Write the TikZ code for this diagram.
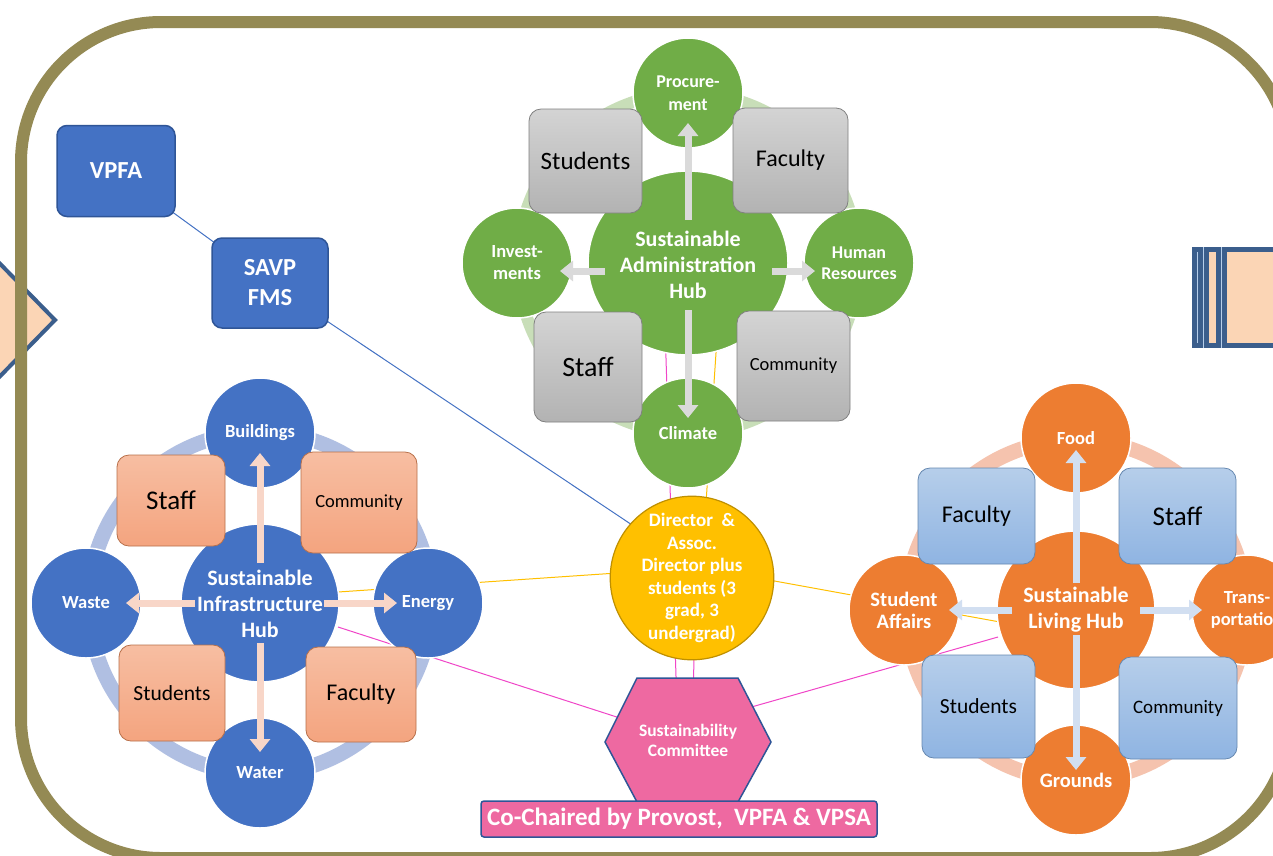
\documentclass[tikz,border=0pt]{standalone}
\usepackage{fontspec}
\setmainfont{Carlito}
\usetikzlibrary{arrows.meta,shapes.geometric,calc}
\definecolor{frameol}{HTML}{948A54}
\definecolor{gA}{HTML}{70AD47}
\definecolor{bI}{HTML}{4472C4}
\definecolor{oL}{HTML}{ED7D31}
\definecolor{gold}{HTML}{FFC000}
\definecolor{golddk}{HTML}{BF9000}
\definecolor{pinkH}{HTML}{EE69A1}
\definecolor{navy}{HTML}{2F5597}
\definecolor{steel}{HTML}{3B5E8C}
\definecolor{peachL}{HTML}{FBD5B5}
\definecolor{ringA}{HTML}{C8DEB8}
\definecolor{ringI}{HTML}{B0BFE2}
\definecolor{ringL}{HTML}{F5C3AE}
\definecolor{arrAc}{HTML}{DADADA}
\definecolor{arrIc}{HTML}{F8D6C8}
\definecolor{arrLc}{HTML}{D2DFF1}
\definecolor{lnpink}{HTML}{F046C8}
\definecolor{lngold}{HTML}{FFC000}
\definecolor{lnblue}{HTML}{4472C4}
\definecolor{pTop}{HTML}{F7BEA2}
\definecolor{pBot}{HTML}{F4A47F}
\definecolor{pEdge}{HTML}{B8704A}
\definecolor{bEdge}{HTML}{6688B0}
\definecolor{bTop}{HTML}{B6CEEA}
\definecolor{bBot}{HTML}{8FB4E2}
\tikzset{
  sat/.style={circle, minimum size=110pt, inner sep=0pt, draw=white, line width=1.5pt, text=white,
    font=\bfseries\fontsize{18.5}{22}\selectfont, align=center},
  hubnode/.style={circle, minimum size=158pt, inner sep=0pt, draw=white, line width=1.5pt, text=white,
    font=\bfseries\fontsize{22}{26}\selectfont, align=center},
  hubtext/.style={text=white, font=\bfseries\fontsize{22}{26}\selectfont, align=center},
  greybox/.style={rectangle, rounded corners=12pt, inner sep=0pt, draw=black!50, line width=0.8pt,
    top color=black!17, bottom color=black!30, text=black, align=center},
  peachbox/.style={rectangle, rounded corners=12pt, inner sep=0pt, draw=pEdge, line width=0.8pt,
    top color=pTop, bottom color=pBot, text=black, align=center},
  bluebox/.style={rectangle, rounded corners=12pt, inner sep=0pt, draw=bEdge, line width=0.8pt,
    top color=bTop, bottom color=bBot, text=black, align=center},
  fatarrow/.style={line width=7pt, -{Triangle[width=20pt,length=13pt]}},
  org/.style={rectangle, rounded corners=10pt, fill=bI, draw=navy, line width=1.5pt, text=white,
    font=\bfseries\fontsize{24.5}{30}\selectfont, align=center, inner sep=0pt},
  conn/.style={line width=1pt},
}
\begin{document}
\begin{tikzpicture}[x=1pt,y=-1pt]
\useasboundingbox (0,0) rectangle (1273,855);
\clip (0,0) rectangle (1273,855);
\fill[white] (0,0) rectangle (1273,855);

% left chevron
\draw[fill=peachL, draw=steel, line width=4pt, line join=miter] (-30,233) -- (55,320) -- (-30,407) -- cycle;
% right striped shape
\fill[steel] (1192,247) rectangle (1300,348);
\fill[peachL] (1209,252) rectangle (1216,343);
\fill[peachL] (1227,252) rectangle (1300,343);
\draw[bTop, line width=0.8pt] (1197,252) -- (1197,343);
\draw[bTop, line width=0.8pt] (1203,247) -- (1203,348);
\draw[bTop, line width=0.8pt] (1221,247) -- (1221,348);

% frame
\draw[frameol, line width=12pt, rounded corners=140pt] (21,22) rectangle (1290,858);

% rings
\draw[ringA, line width=12pt] (688,263) circle[radius=170pt];
\draw[ringI, line width=15pt] (260,603) circle[radius=171pt];
\draw[ringL, line width=15pt] (1076,610) circle[radius=170pt];

% node coordinates for hubs (defined before connectors)
\path (688,263) coordinate (adminc);
\path (260,603) coordinate (infrac);
\path (1076,610) coordinate (livingc);
\path (692,578) coordinate (dirc);
\path (688,740) coordinate (hexc);
\path (116,171) coordinate (vpfac);
\path (270,283) coordinate (savpc);

% connectors
\draw[conn, lnblue] (vpfac) -- (savpc);
\draw[conn, lnblue] (savpc) -- ([yshift=13pt]dirc);
\draw[conn, lnpink] ([xshift=-25pt]adminc) -- ([xshift=-10pt]hexc);
\draw[conn, lngold] ([xshift=34pt]adminc) -- ([xshift=9pt]dirc);
\draw[conn, lnpink] ([xshift=4pt]dirc) -- ([xshift=4pt]hexc);
\draw[conn, lngold] ([xshift=78pt,yshift=11pt]infrac) -- ([xshift=-75pt,yshift=5pt]dirc);
\draw[conn, lnpink] ([xshift=78pt,yshift=-24pt]infrac) -- (hexc);
\draw[conn, lngold] ([yshift=12pt]dirc) -- ([xshift=-76pt,yshift=-12pt]livingc);
\draw[conn, lnpink] ([xshift=-78pt,yshift=-27pt]livingc) -- ([yshift=15pt]hexc);

% ---- Administration hub ----
\node[sat, fill=gA, font=\bfseries\fontsize{18}{23}\selectfont] (proc) at (688,93) {Procure-\\ment};
\node[sat, fill=gA] (clim) at (688,433) {Climate};
\node[sat, fill=gA] (inv) at (517,263) {Invest-\\ments};
\node[sat, fill=gA, font=\bfseries\fontsize{18}{20.5}\selectfont] (hr) at (859,263) {Human\\Resources};
\node[hubnode, ellipse, fill=gA, minimum width=200pt, minimum height=184pt] (admin) at (adminc) {};
\node[greybox, minimum width=113pt, minimum height=104pt, font=\fontsize{25}{28}\selectfont] (aStu) at (585.5,161) {Students};
\node[greybox, minimum width=115pt, minimum height=105pt, font=\fontsize{24}{28}\selectfont] (aFac) at (790.5,160.5) {Faculty};
\node[greybox, minimum width=108pt, minimum height=110pt, font=\fontsize{28}{32}\selectfont] (aSta) at (588,367) {Staff};
\node[greybox, minimum width=113pt, minimum height=110pt, font=\fontsize{18.5}{22}\selectfont] (aCom) at (793.5,366) {Community};
\draw[fatarrow, arrAc] ([yshift=43pt]admin.center) -- ([yshift=-30pt]proc.center);
\draw[fatarrow, arrAc] ([yshift=-47pt]admin.center) -- ([yshift=15pt]clim.center);
\draw[fatarrow, arrAc] ([xshift=84pt,yshift=-8pt]admin.center) -- ([xshift=-44pt,yshift=-8pt]hr.center);
\draw[fatarrow, arrAc] ([xshift=-83pt,yshift=-8pt]admin.center) -- ([xshift=43pt,yshift=-8pt]inv.center);
\node[hubtext] (adminT) at (688,265) {Sustainable\\Administration\\Hub};

% ---- Infrastructure hub ----
\node[sat, fill=bI] (bld) at (260,433) {Buildings};
\node[sat, fill=bI] (wat) at (260,773) {Water};
\node[sat, fill=bI] (was) at (86,603) {Waste};
\node[sat, fill=bI] (ene) at (428,603) {Energy};
\node[hubnode, fill=bI] (infra) at (infrac) {};
\node[peachbox, minimum width=108pt, minimum height=91pt, font=\fontsize{27}{31}\selectfont] (iSta) at (171,500.5) {Staff};
\node[peachbox, minimum width=116pt, minimum height=101pt, font=\fontsize{18.5}{22}\selectfont] (iCom) at (359,502.5) {Community};
\node[peachbox, minimum width=106pt, minimum height=96pt, font=\fontsize{21.5}{25}\selectfont] (iStu) at (172,693) {Students};
\node[peachbox, minimum width=110pt, minimum height=95pt, font=\fontsize{24}{28}\selectfont] (iFac) at (361,694.5) {Faculty};
\draw[fatarrow, arrIc] ([yshift=40pt]infra.center) -- ([yshift=-20pt]bld.center);
\draw[fatarrow, arrIc] ([yshift=-40pt]infra.center) -- ([yshift=21pt]wat.center);
\draw[fatarrow, arrIc] ([xshift=-65pt]infra.center) -- ([xshift=40pt]was.center);
\draw[fatarrow, arrIc] ([xshift=64pt]infra.center) -- ([xshift=-31pt]ene.center);
\node[hubtext] (infraT) at (260,604) {Sustainable\\Infrastructure\\Hub};

% ---- Living hub ----
\node[sat, fill=oL] (food) at (1076,438) {Food};
\node[sat, fill=oL, font=\bfseries\fontsize{20.5}{24}\selectfont] (grd) at (1076,780) {Grounds};
\node[sat, fill=oL, font=\bfseries\fontsize{20.5}{22}\selectfont] (sa) at (904,610) {Student\\Affairs};
\node[sat, fill=oL] (tr) at (1247,610) {Trans-\\portation};
\node[hubnode, fill=oL] (living) at (livingc) {};
\node[bluebox, minimum width=117pt, minimum height=96pt, font=\fontsize{24}{28}\selectfont] (lFac) at (976.5,516) {Faculty};
\node[bluebox, minimum width=117pt, minimum height=96pt, font=\fontsize{27}{31}\selectfont] (lSta) at (1177.5,516) {Staff};
\node[bluebox, minimum width=113pt, minimum height=103pt, font=\fontsize{21.5}{25}\selectfont] (lStu) at (978.5,706.5) {Students};
\node[bluebox, minimum width=118pt, minimum height=102pt, font=\fontsize{19}{22}\selectfont] (lCom) at (1178,708) {Community};
\draw[fatarrow, arrLc] ([yshift=27pt]living.center) -- ([yshift=-12pt]food.center);
\draw[fatarrow, arrLc] ([yshift=-25pt]living.center) -- ([yshift=10pt]grd.center);
\draw[fatarrow, arrLc] ([xshift=-64pt]living.center) -- ([xshift=45pt]sa.center);
\draw[fatarrow, arrLc] ([xshift=64pt]living.center) -- ([xshift=-45pt]tr.center);
\node[hubtext] (livingT) at (1076,610) {Sustainable\\Living Hub};

% ---- org boxes ----
\node[org, minimum width=118pt, minimum height=91pt] (vpfa) at (vpfac) {VPFA};
\node[org, minimum width=116pt, minimum height=90pt] (savp) at (savpc) {SAVP\\FMS};

% ---- director ----
\node[circle, minimum size=150pt, inner sep=0pt, fill=gold, draw=golddk, line width=1.2pt, text=white,
  font=\bfseries\fontsize{19}{22.5}\selectfont, align=center] (dir) at (dirc) {Director\ \ \&\\Assoc.\\Director plus\\students (3\\grad, 3\\undergrad)};

% ---- committee hexagon ----
\draw[fill=pinkH, draw=navy, line width=1.5pt] (605,742) -- (637,678) -- (738,678) -- (771,742) -- (738,802) -- (637,802) -- cycle;
\node[text=white, font=\bfseries\fontsize{17.5}{20}\selectfont, align=center] (hex) at (hexc) {Sustainability\\Committee};

% ---- banner ----
\node[rectangle, rounded corners=3pt, fill=pinkH, draw=navy, line width=1.5pt, minimum width=396pt, minimum height=36pt,
  inner sep=0pt, text=white, font=\bfseries\fontsize{25}{28}\selectfont] (cochair) at (679,819) {Co-Chaired by Provost,\ \ VPFA \& VPSA};
\end{tikzpicture}
\end{document}
